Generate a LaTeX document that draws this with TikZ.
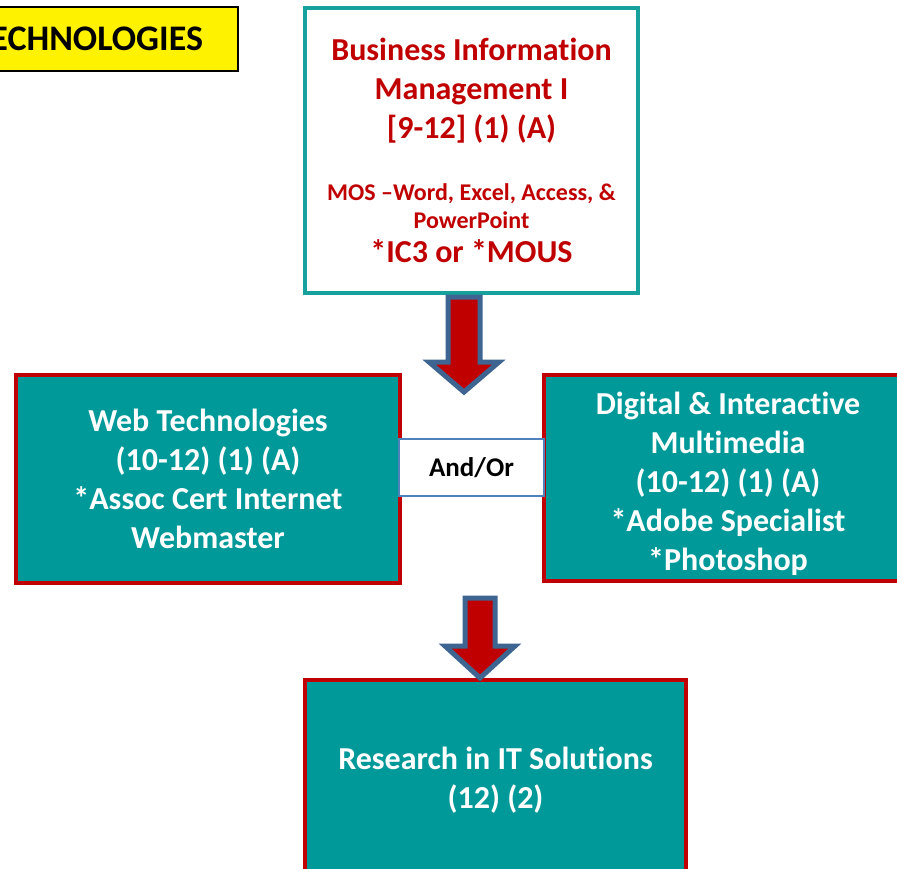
\documentclass[tikz,border=0pt]{standalone}
\usepackage{fontspec}
\setmainfont{Carlito}[Ligatures={TeX,NoCommon}]
\usepackage{tikz}
\usetikzlibrary{calc}
\usepackage{xcolor}
\definecolor{tealfill}{RGB}{0,153,153}
\definecolor{tealline}{RGB}{22,161,156}
\definecolor{darkred}{RGB}{192,0,0}
\definecolor{arrowblue}{RGB}{62,100,145}
\definecolor{orblue}{RGB}{79,129,189}
\tikzstyle{titlebox} = [rectangle, draw=black, line width=2pt, fill=yellow, font=\fontsize{36}{42}\selectfont\bfseries]
\tikzstyle{topbox} = [rectangle, draw=tealline, line width=4pt, fill=white, text=darkred, align=flush center, font=\fontsize{32}{39}\selectfont\bfseries]
\tikzstyle{coursebox} = [rectangle, draw=darkred, line width=4pt, fill=tealfill, text=white, align=flush center, font=\fontsize{32}{39}\selectfont\bfseries]
\tikzstyle{orbox} = [rectangle, draw=orblue, line width=2pt, fill=white, font=\fontsize{27}{32}\selectfont\bfseries]
\tikzstyle{blockarrow} = [draw=arrowblue, line width=5pt, fill=darkred, line join=miter]

\begin{document}
\begin{tikzpicture}[x=1pt, y=-1pt]
\useasboundingbox (0,0) rectangle (897,869);

% Nodes
\node (title) [titlebox, anchor=east, minimum height=64pt, inner xsep=35pt] at (239,39) {TECHNOLOGIES};
\node (top) [topbox, minimum width=333pt, minimum height=285pt, text width=325pt] at (471.5,150.5) {Business Information\\ Management I\\ {[9-12]} (1) (A)\par\vspace{34pt}\fontsize{24}{28}\selectfont MOS –Word, Excel, Access, \&\\ PowerPoint\par\fontsize{32}{34}\selectfont *IC3 or *MOUS\par};
\node (web) [coursebox, minimum width=384pt, minimum height=208pt] at (208,479) {Web Technologies\\ (10-12) (1) (A)\\ *Assoc Cert Internet\\ Webmaster};
\node (media) [coursebox, minimum width=368pt, minimum height=206pt] at (728,478) {\rule{0pt}{34pt}Digital \& Interactive\\ Multimedia\\ (10-12) (1) (A)\\ *Adobe Specialist\\ *Photoshop};
\node (andor) [orbox, minimum width=145pt, minimum height=57pt] at (471.5,467.5) {And/Or};
\node (research) [coursebox, minimum width=381pt, minimum height=200pt] at (495.5,780) {Research in IT Solutions\\ (12) (2)};

% Arrows
\coordinate (a1tip) at ($(top.south)+(-7.5,97)$);
\coordinate (a2tip) at ($(research.north)+(-15.5,0)$);
\draw [blockarrow] (a1tip) -- ++(-35,-30) -- ++(19,0) -- ++(0,-65) -- ++(32,0) -- ++(0,65) -- ++(19,0) -- cycle;
\draw [blockarrow] (a2tip) -- ++(-35,-32) -- ++(20,0) -- ++(0,-48) -- ++(30,0) -- ++(0,48) -- ++(20,0) -- cycle;

\end{tikzpicture}
\end{document}
